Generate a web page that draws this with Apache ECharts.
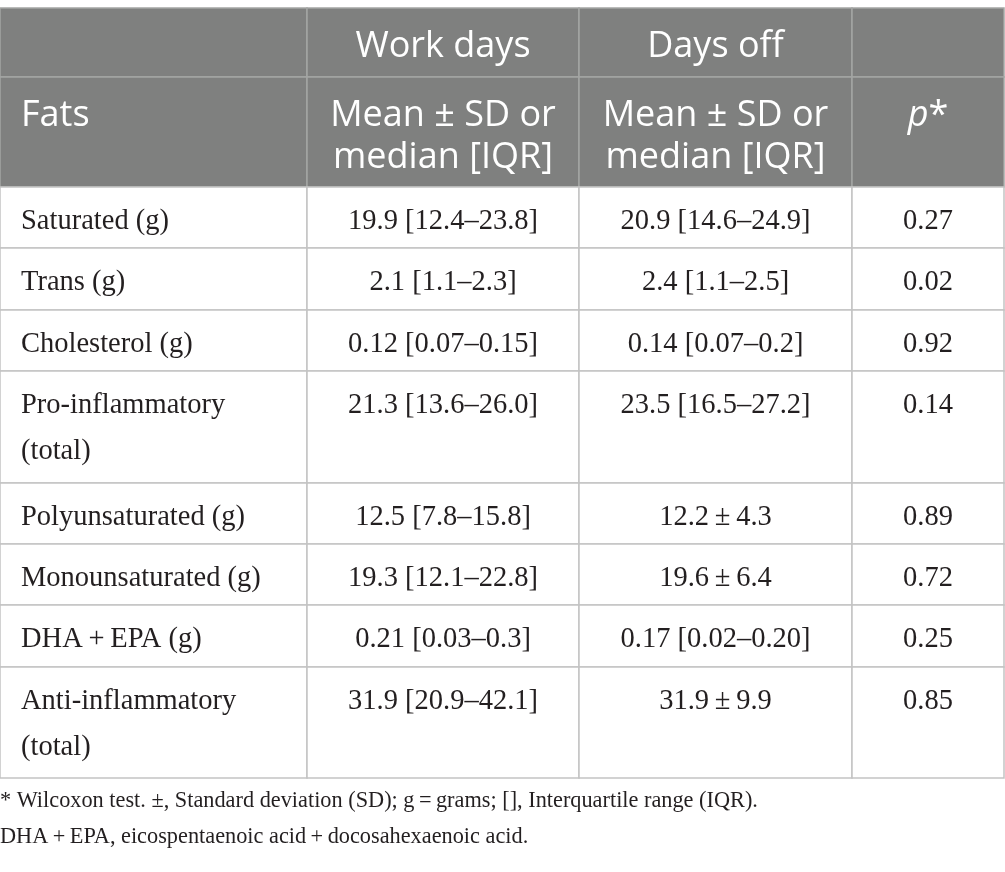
<!DOCTYPE html>
<html>
<head>
<meta charset="utf-8">
<script src="https://cdn.jsdelivr.net/npm/echarts@6/dist/echarts.min.js"></script>
<style>
  html, body { margin: 0; padding: 0; background: #fff; }
  #chart { width: 1005px; height: 872px; }
</style>
</head>
<body>
<div id="chart"></div>
<script>
// table content
const groupHeaders = ['', 'Work days', 'Days off', ''];
const columnHeaders = ['Fats', 'Mean \u00b1 SD or\nmedian [IQR]', 'Mean \u00b1 SD or\nmedian [IQR]', '{i|p}*'];
const fats = ['Saturated (g)', 'Trans (g)', 'Cholesterol (g)', 'Pro-inflammatory\n(total)',
  'Polyunsaturated (g)', 'Monounsaturated (g)', 'DHA\u2009+\u2009EPA (g)', 'Anti-inflammatory\n(total)'];
const workDays = ['19.9 [12.4\u201323.8]', '2.1 [1.1\u20132.3]', '0.12 [0.07\u20130.15]', '21.3 [13.6\u201326.0]',
  '12.5 [7.8\u201315.8]', '19.3 [12.1\u201322.8]', '0.21 [0.03\u20130.3]', '31.9 [20.9\u201342.1]'];
const daysOff = ['20.9 [14.6\u201324.9]', '2.4 [1.1\u20132.5]', '0.14 [0.07\u20130.2]', '23.5 [16.5\u201327.2]',
  '12.2\u2009\u00b1\u20094.3', '19.6\u2009\u00b1\u20096.4', '0.17 [0.02\u20130.20]', '31.9\u2009\u00b1\u20099.9'];
const pValues = ['0.27', '0.02', '0.92', '0.14', '0.89', '0.72', '0.25', '0.85'];
const footnotes = [
  '* Wilcoxon test. \u00b1, Standard deviation (SD); g\u2009=\u2009grams; [], Interquartile range (IQR).',
  'DHA\u2009+\u2009EPA, eicospentaenoic acid\u2009+\u2009docosahexaenoic acid.'
];

// layout (table units = px)
const colEdges = [0, 307, 579, 852, 1004];
const rowEdges = [0, 69, 179, 240, 302, 363, 475, 536, 597, 659, 770];

const cells = [];
groupHeaders.forEach((t, c) => cells.push({ col: c, row: 0, text: t, head: true }));
columnHeaders.forEach((t, c) => cells.push({ col: c, row: 1, text: t, head: true }));
fats.forEach((f, r) => {
  [f, workDays[r], daysOff[r], pValues[r]].forEach((t, c) => {
    cells.push({ col: c, row: r + 2, text: t, head: false });
  });
});

const sansFont = '"Open Sans", "Noto Sans", sans-serif';
const serifFont = '"Liberation Serif", "DejaVu Serif", serif';

function renderCell(params, api) {
  const cell = cells[params.dataIndex];
  const c = api.value(0), r = api.value(1);
  const p0 = api.coord([colEdges[c], rowEdges[r]]);
  const p1 = api.coord([colEdges[c + 1], rowEdges[r + 1]]);
  const children = [{
    type: 'rect',
    shape: { x: p0[0], y: p0[1], width: p1[0] - p0[0], height: p1[1] - p0[1] },
    style: {
      fill: cell.head ? '#7f807f' : '#fff',
      stroke: cell.head ? '#a4a5a4' : '#c3c3c3',
      lineWidth: 1.5
    }
  }];
  let first, gap;
  if (cell.row === 0) { first = 39; gap = 42; }
  else if (cell.row === 1) { first = 39; gap = 42; }
  else { first = 35; gap = 46; }
  const left = c === 0;
  cell.text.split('\n').forEach((line, i) => {
    children.push({
      type: 'text',
      style: {
        x: left ? p0[0] + 21 : (p0[0] + p1[0]) / 2,
        y: p0[1] + first + i * gap,
        text: line,
        align: left ? 'left' : 'center',
        verticalAlign: 'middle',
        fill: cell.head ? '#fff' : '#231f20',
        font: cell.head ? '36px ' + sansFont : '28.5px ' + serifFont,
        rich: {
          i: { fontStyle: 'italic', fontSize: 36, fontFamily: sansFont, fill: '#fff' }
        }
      }
    });
  });
  return { type: 'group', children: children };
}

const myChart = echarts.init(document.getElementById('chart'));
const option = {
  animation: false,
  grid: { left: 0, top: 8, width: 1004, height: 770 },
  xAxis: { type: 'value', min: 0, max: 1004, show: false },
  yAxis: { type: 'value', min: 0, max: 770, inverse: true, show: false },
  graphic: footnotes.map((t, i) => ({
    type: 'text',
    left: 0,
    top: 790 + i * 36,
    style: { text: t, font: '22.3px ' + serifFont, fill: '#231f20' }
  })),
  series: [{
    type: 'custom',
    renderItem: renderCell,
    data: cells.map(cell => [cell.col, cell.row]),
    clip: false
  }]
};
myChart.setOption(option);
window.addEventListener('resize', function () {
  myChart.resize();
});
</script>
</body>
</html>
